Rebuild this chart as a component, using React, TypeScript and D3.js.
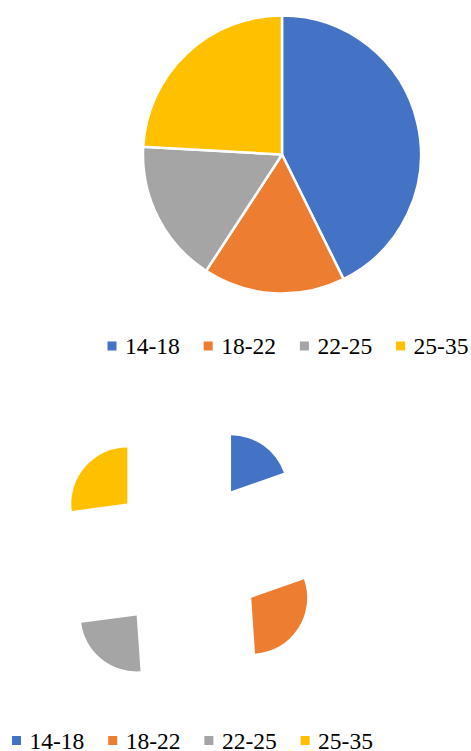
import React, { useRef, useEffect } from "react";
import * as d3 from "d3";

const WIDTH = 471;
const HEIGHT = 751;

const categories = ["14-18", "18-22", "22-25", "25-35"];
const colors = ["#4472C4", "#ED7D31", "#A5A5A5", "#FFC000"];

// shares (percent)
const topValues = [42.7, 16.5, 16.7, 24.1];
const bottomValues = [19.6, 29.3, 24.0, 27.1];

const FONT = "'Liberation Serif', 'DejaVu Serif', serif";

export default function App() {
  const svgRef = useRef<SVGSVGElement | null>(null);

  useEffect(() => {
    const svg = d3.select(svgRef.current);
    svg.selectAll("*").remove();

    const pie = d3
      .pie<number>()
      .sort(null)
      .value((d) => d);

    // Top pie
    const topR = 139;
    const arcTop = d3.arc<d3.PieArcDatum<number>>().innerRadius(0).outerRadius(topR);
    const gTop = svg.append("g").attr("transform", "translate(282,154.5)");
    gTop
      .selectAll("path")
      .data(pie(topValues))
      .enter()
      .append("path")
      .attr("d", arcTop)
      .attr("fill", (_, i) => colors[i])
      .attr("stroke", "#fff")
      .attr("stroke-width", 2.5)
      .attr("stroke-linejoin", "round");

    // Bottom exploded pie
    const botR = 56;
    const explode = 78;
    const arcBot = d3.arc<d3.PieArcDatum<number>>().innerRadius(0).outerRadius(botR);
    const gBot = svg.append("g").attr("transform", "translate(186,555)");
    gBot
      .selectAll("path")
      .data(pie(bottomValues))
      .enter()
      .append("path")
      .attr("d", arcBot)
      .attr("fill", (_, i) => colors[i])
      .attr("transform", (d) => {
        const a = (d.startAngle + d.endAngle) / 2;
        return `translate(${explode * Math.sin(a)},${-explode * Math.cos(a)})`;
      });

    // Legends
    const drawLegend = (x0: number, baseline: number) => {
      const x = d3.scaleLinear().domain([0, 1]).range([x0, x0 + 96.2]);
      const g = svg.append("g");
      const items = g
        .selectAll("g")
        .data(categories)
        .enter()
        .append("g")
        .attr("transform", (_, i) => `translate(${x(i)},${baseline})`);
      items
        .append("rect")
        .attr("x", 0)
        .attr("y", -12.5)
        .attr("width", 9)
        .attr("height", 9)
        .attr("fill", (_, i) => colors[i]);
      items
        .append("text")
        .attr("x", 17.5)
        .attr("y", 0)
        .attr("font-family", FONT)
        .attr("font-size", 23.5)
        .attr("fill", "#000")
        .text((d) => d);
    };
    drawLegend(107.5, 354);
    drawLegend(12, 748.5);
  }, []);

  return (
    <svg
      ref={svgRef}
      width={WIDTH}
      height={HEIGHT}
      style={{ position: "absolute", left: 0, top: 0, background: "#fff" }}
    />
  );
}
